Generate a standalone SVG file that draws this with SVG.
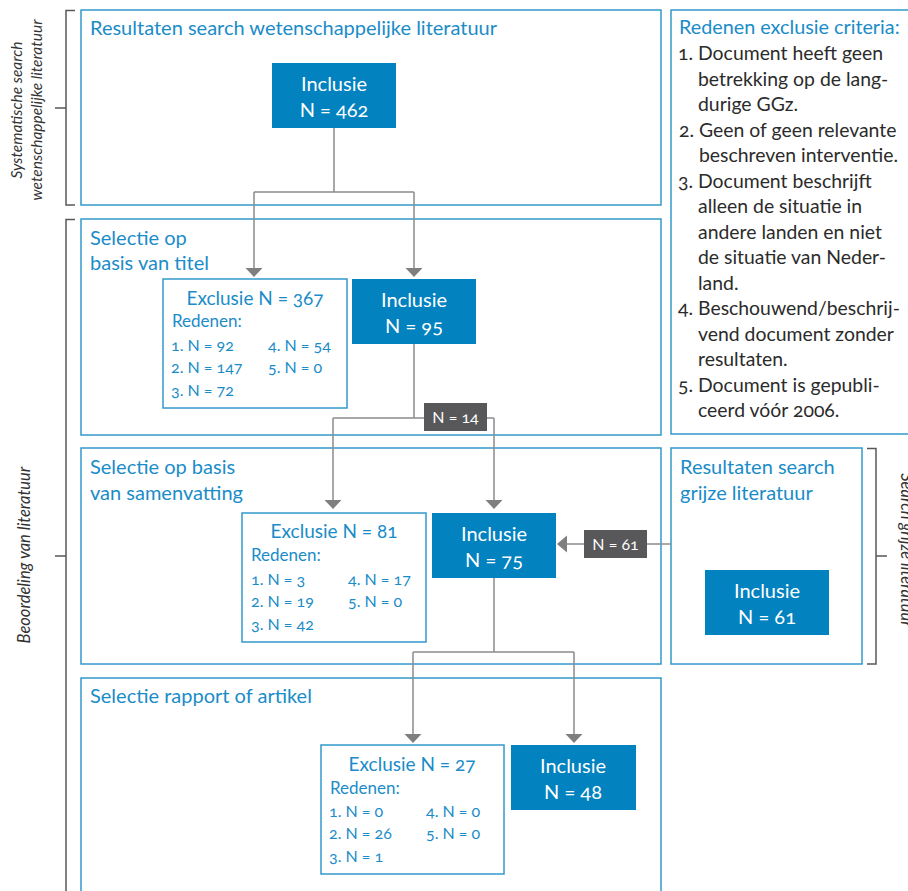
<svg xmlns="http://www.w3.org/2000/svg" width="908" height="891" viewBox="0 0 908 891">
<style>
text{font-family:Lato,"Noto Sans","Liberation Sans",sans-serif;font-variant-numeric:oldstyle-nums;font-feature-settings:"onum" 1}
.sec{fill:#fff;stroke:#3399cc;stroke-width:1.5}
.inc{fill:#0282bf}
.exc{fill:#fff;stroke:#3399cc;stroke-width:1.5}
.h{fill:#1a8cc8;font-size:20px}
.w{fill:#fff;font-size:20px;text-anchor:middle}
.et{fill:#1a8cc8;font-size:19px;text-anchor:middle}
.rh{fill:#1a8cc8;font-size:17px}
.r{fill:#1a8cc8;font-size:16px}
.l{fill:#2b2b2b;font-size:19.4px}
.side{fill:#333;font-size:15.5px;font-style:italic;text-anchor:middle}
.side2{fill:#333;font-size:16.5px;font-style:italic;text-anchor:middle}
.br{fill:none;stroke:#58585a;stroke-width:1.5}
.cn{fill:none;stroke:#8c8c8c;stroke-width:1.5}
.ah{fill:#7f7f7f}
.lab{fill:#58585a}
.lt{fill:#fff;font-size:16px;text-anchor:middle}
</style>

<g id="brackets">
<path class="br" d="M75,10.5 H66 V205 H75 M66,108 H55"/>
<path class="br" d="M75,219.5 H66 V895 M66,556 H55"/>
<path class="br" d="M867,448.5 H876 V664 H867 M876,556 H887"/>
<text class="side" transform="translate(21.5,110) rotate(-90)">Systematische search</text>
<text class="side" transform="translate(42,110) rotate(-90)">wetenschappelijke literatuur</text>
<text class="side2" transform="translate(30,555) rotate(-90)">Beoordeling van literatuur</text>
<text class="side2" transform="translate(901,550) rotate(90)">Search grijze literatuur</text>
</g>

<g id="sec1">
<rect class="sec" x="81" y="10" width="580" height="195"/>
<text class="h" x="90" y="35">Resultaten search wetenschappelijke literatuur</text>
</g>
<g id="sec2">
<rect class="sec" x="81" y="219" width="580" height="216"/>
<text class="h" x="90" y="245">Selectie op</text>
<text class="h" x="90" y="270">basis van titel</text>
</g>
<g id="sec3">
<rect class="sec" x="81" y="448" width="580" height="216"/>
<text class="h" x="90" y="474">Selectie op basis</text>
<text class="h" x="90" y="500">van samenvatting</text>
</g>
<g id="sec4">
<rect class="sec" x="81" y="678" width="580" height="230"/>
<text class="h" x="90" y="703">Selectie rapport of artikel</text>
</g>
<g id="criteria">
<rect class="sec" x="671" y="10" width="250" height="424"/>
<text class="h" x="679" y="34" style="font-size:19.8px">Redenen exclusie criteria:</text>
<text class="l" x="678" y="60">1. Document heeft geen</text>
<text class="l" x="698" y="85.5">betrekking op de lang-</text>
<text class="l" x="698" y="111">durige GGz.</text>
<text class="l" x="679" y="136.5">2. Geen of geen relevante</text>
<text class="l" x="699" y="162">beschreven interventie.</text>
<text class="l" x="678" y="187.5">3. Document beschrijft</text>
<text class="l" x="698" y="213">alleen de situatie in</text>
<text class="l" x="698" y="238.5">andere landen en niet</text>
<text class="l" x="698" y="264">de situatie van Neder-</text>
<text class="l" x="698" y="289.5">land.</text>
<text class="l" x="678" y="315">4. Beschouwend/beschrij-</text>
<text class="l" x="698" y="340.5">vend document zonder</text>
<text class="l" x="698" y="366">resultaten.</text>
<text class="l" x="678" y="391.5">5. Document is gepubli-</text>
<text class="l" x="698" y="417">ceerd vóór 2006.</text>
</g>
<g id="grijs">
<rect class="sec" x="671" y="448" width="191" height="216"/>
<text class="h" x="680" y="474">Resultaten search</text>
<text class="h" x="680" y="500">grijze literatuur</text>
</g>

<g id="connectors">
<path class="cn" d="M334,128 V192 M254,192 H414 M254,192 V270 M414,192 V270"/>
<path class="ah" d="M245.5,268 H262.5 L254,277 Z M405.5,268 H422.5 L414,277 Z"/>
<path class="cn" d="M414,344 V418 M333,418 H494 M333,418 V502 M494,418 V502"/>
<path class="ah" d="M324.5,500 H341.5 L333,509 Z M485.5,500 H502.5 L494,509 Z"/>
<path class="cn" d="M494,578 V652 M413,652 H574 M413,652 V736 M574,652 V736"/>
<path class="ah" d="M404.5,734 H421.5 L413,743 Z M565.5,734 H582.5 L574,743 Z"/>
<path class="cn" d="M671,544 H565"/>
<path class="ah" d="M567,535.5 V552.5 L557,544 Z"/>
<rect class="lab" x="424" y="403" width="63" height="28"/>
<text class="lt" x="455.5" y="423">N = 14</text>
<rect class="lab" x="584" y="530" width="63" height="28"/>
<text class="lt" x="615.5" y="550">N = 61</text>
</g>

<g id="inc462">
<rect class="inc" x="272" y="63" width="124" height="65"/>
<text class="w" x="334" y="91">Inclusie</text>
<text class="w" x="334" y="117">N = 462</text>
</g>
<g id="exc367">
<rect class="exc" x="163" y="279" width="184" height="129"/>
<text class="et" x="255" y="305">Exclusie N = 367</text>
<text class="rh" x="172" y="327">Redenen:</text>
<text class="r" x="171" y="351">1. N = 92</text>
<text class="r" x="171" y="373">2. N = 147</text>
<text class="r" x="171" y="396">3. N = 72</text>
<text class="r" x="268" y="351">4. N = 54</text>
<text class="r" x="268" y="373">5. N = 0</text>
</g>
<g id="inc95">
<rect class="inc" x="352" y="279" width="124" height="65"/>
<text class="w" x="414" y="307">Inclusie</text>
<text class="w" x="414" y="333">N = 95</text>
</g>
<g id="exc81">
<rect class="exc" x="242" y="513" width="184" height="129"/>
<text class="et" x="334" y="538">Exclusie N = 81</text>
<text class="rh" x="251" y="561">Redenen:</text>
<text class="r" x="251" y="585">1. N = 3</text>
<text class="r" x="251" y="607">2. N = 19</text>
<text class="r" x="251" y="630">3. N = 42</text>
<text class="r" x="348" y="585">4. N = 17</text>
<text class="r" x="348" y="607">5. N = 0</text>
</g>
<g id="inc75">
<rect class="inc" x="432" y="513" width="124" height="65"/>
<text class="w" x="494" y="541">Inclusie</text>
<text class="w" x="494" y="567">N = 75</text>
</g>
<g id="inc61">
<rect class="inc" x="705" y="570" width="124" height="65"/>
<text class="w" x="767" y="598">Inclusie</text>
<text class="w" x="767" y="624">N = 61</text>
</g>
<g id="exc27">
<rect class="exc" x="321" y="745" width="183" height="129"/>
<text class="et" x="412" y="771">Exclusie N = 27</text>
<text class="rh" x="330" y="794">Redenen:</text>
<text class="r" x="329" y="817">1. N = 0</text>
<text class="r" x="329" y="839">2. N = 26</text>
<text class="r" x="329" y="862">3. N = 1</text>
<text class="r" x="426" y="817">4. N = 0</text>
<text class="r" x="426" y="839">5. N = 0</text>
</g>
<g id="inc48">
<rect class="inc" x="511" y="745" width="125" height="65"/>
<text class="w" x="573" y="773">Inclusie</text>
<text class="w" x="573" y="799">N = 48</text>
</g>
</svg>
